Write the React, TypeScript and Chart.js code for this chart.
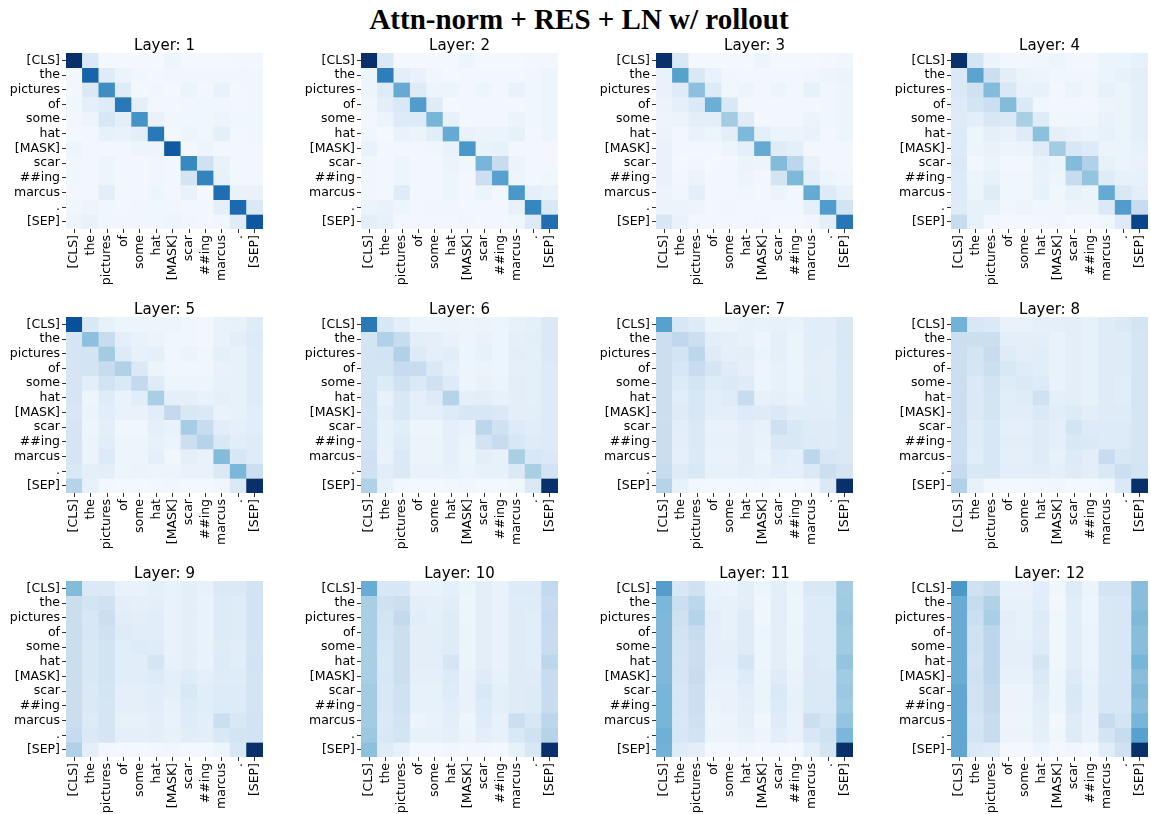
import React, { useEffect, useRef } from "react";
import { Chart, registerables } from "chart.js";
Chart.register(...registerables);

const tokens = ["[CLS]", "the", "pictures", "of", "some", "hat", "[MASK]", "scar", "##ing", "marcus", ".", "[SEP]"];
const layerTitles = ["Layer: 1", "Layer: 2", "Layer: 3", "Layer: 4", "Layer: 5", "Layer: 6", "Layer: 7", "Layer: 8", "Layer: 9", "Layer: 10", "Layer: 11", "Layer: 12"];
const figureTitle = "Attn-norm + RES + LN w/ rollout";

// Colour intensity (0..100 on the Blues colormap) per cell: rows = query token, columns = key token
const layer1 = [
  [100, 14, 2, 2, 2, 2, 5, 2, 2, 2, 3, 3],
  [3, 80, 12, 6, 4, 3, 4, 4, 4, 4, 4, 4],
  [3, 14, 64, 12, 3, 4, 2, 6, 3, 7, 3, 4],
  [4, 9, 12, 72, 9, 3, 3, 4, 4, 4, 3, 4],
  [3, 5, 16, 10, 62, 7, 4, 4, 4, 5, 4, 4],
  [2, 3, 8, 7, 10, 72, 3, 5, 4, 9, 3, 4],
  [5, 3, 3, 3, 5, 5, 84, 3, 5, 3, 3, 3],
  [4, 3, 5, 3, 3, 4, 3, 66, 20, 7, 3, 3],
  [4, 3, 5, 3, 3, 4, 3, 18, 68, 8, 3, 3],
  [3, 3, 10, 3, 3, 5, 3, 7, 2, 76, 7, 7],
  [4, 5, 4, 3, 4, 4, 4, 3, 3, 9, 78, 14],
  [5, 7, 4, 4, 4, 4, 5, 4, 3, 4, 12, 85],
];
const layer2 = [
  [100, 14, 2, 2, 2, 2, 5, 2, 2, 2, 3, 3],
  [5, 70, 10, 7, 4, 2, 3, 3, 3, 3, 4, 5],
  [5, 12, 52, 12, 5, 5, 3, 5, 3, 7, 4, 5],
  [4, 10, 15, 58, 12, 2, 3, 3, 3, 3, 4, 5],
  [3, 6, 13, 13, 47, 8, 3, 3, 3, 6, 4, 5],
  [4, 2, 7, 6, 11, 52, 7, 6, 6, 8, 3, 5],
  [7, 3, 3, 3, 4, 7, 60, 7, 8, 3, 3, 3],
  [4, 3, 5, 3, 3, 6, 4, 47, 24, 6, 3, 3],
  [4, 3, 5, 3, 3, 5, 3, 22, 56, 5, 3, 4],
  [4, 3, 12, 3, 3, 5, 3, 6, 3, 60, 9, 7],
  [6, 7, 5, 3, 4, 4, 3, 3, 3, 8, 67, 15],
  [10, 8, 3, 3, 3, 3, 4, 3, 3, 4, 13, 76],
];
const layer3 = [
  [100, 15, 2, 2, 2, 2, 5, 2, 2, 2, 3, 4],
  [7, 56, 15, 7, 4, 3, 3, 3, 3, 4, 5, 6],
  [7, 12, 42, 13, 4, 5, 3, 5, 3, 8, 4, 5],
  [6, 9, 14, 50, 15, 3, 3, 3, 3, 3, 4, 5],
  [5, 6, 10, 10, 36, 12, 3, 3, 3, 6, 4, 5],
  [6, 3, 7, 5, 10, 45, 9, 6, 6, 7, 3, 5],
  [7, 3, 3, 3, 5, 9, 52, 12, 9, 3, 3, 3],
  [7, 2, 4, 2, 3, 6, 5, 44, 28, 7, 3, 3],
  [7, 3, 6, 3, 3, 5, 3, 18, 45, 10, 5, 4],
  [6, 4, 10, 3, 3, 4, 3, 6, 3, 52, 13, 8],
  [6, 6, 5, 3, 4, 3, 3, 3, 3, 9, 58, 19],
  [16, 7, 3, 3, 3, 3, 4, 2, 2, 4, 10, 73],
];
const layer4 = [
  [100, 17, 6, 3, 3, 4, 5, 3, 3, 6, 6, 8],
  [14, 55, 22, 10, 6, 5, 4, 4, 4, 6, 8, 10],
  [14, 20, 44, 15, 7, 8, 3, 6, 4, 8, 6, 9],
  [13, 18, 22, 44, 14, 4, 3, 3, 3, 5, 6, 9],
  [12, 10, 16, 14, 34, 12, 4, 4, 4, 7, 6, 9],
  [13, 5, 9, 7, 12, 42, 9, 7, 6, 8, 6, 9],
  [13, 5, 7, 5, 6, 12, 36, 16, 13, 6, 6, 8],
  [14, 3, 6, 3, 3, 8, 6, 44, 32, 8, 6, 7],
  [13, 5, 8, 4, 4, 7, 5, 24, 40, 12, 8, 8],
  [13, 6, 12, 4, 4, 8, 4, 8, 6, 52, 15, 10],
  [12, 8, 8, 4, 5, 4, 4, 6, 6, 14, 58, 24],
  [24, 8, 3, 2, 2, 3, 4, 2, 2, 4, 13, 92],
];
const layer5 = [
  [88, 15, 8, 5, 5, 5, 5, 4, 3, 7, 8, 12],
  [17, 42, 24, 9, 7, 6, 4, 4, 3, 7, 10, 13],
  [17, 18, 36, 13, 8, 9, 4, 6, 4, 9, 8, 12],
  [17, 18, 24, 32, 14, 6, 4, 4, 4, 7, 8, 12],
  [17, 10, 19, 14, 26, 12, 5, 5, 5, 8, 8, 12],
  [17, 5, 12, 7, 11, 34, 9, 9, 7, 9, 8, 12],
  [16, 6, 11, 7, 7, 11, 26, 15, 14, 7, 8, 11],
  [17, 5, 10, 4, 4, 9, 7, 35, 24, 11, 9, 11],
  [17, 6, 11, 5, 5, 8, 6, 22, 30, 15, 11, 12],
  [17, 6, 13, 5, 5, 9, 4, 9, 7, 44, 16, 12],
  [15, 9, 10, 5, 6, 5, 5, 7, 7, 14, 46, 22],
  [30, 8, 3, 2, 2, 3, 4, 2, 2, 4, 14, 100],
];
const layer6 = [
  [72, 16, 10, 5, 5, 6, 5, 6, 5, 8, 9, 14],
  [18, 32, 24, 10, 9, 7, 5, 7, 5, 9, 10, 14],
  [18, 19, 32, 13, 9, 11, 5, 8, 5, 10, 9, 14],
  [18, 18, 25, 24, 14, 9, 5, 6, 5, 9, 9, 13],
  [18, 13, 20, 14, 20, 13, 5, 7, 6, 10, 9, 13],
  [19, 8, 15, 9, 13, 30, 9, 10, 8, 10, 9, 13],
  [18, 10, 15, 9, 9, 13, 16, 16, 14, 10, 10, 13],
  [19, 8, 11, 5, 5, 9, 7, 28, 20, 13, 11, 13],
  [19, 8, 12, 6, 6, 9, 6, 19, 24, 16, 12, 13],
  [21, 7, 14, 6, 6, 9, 5, 10, 8, 34, 16, 14],
  [20, 11, 14, 7, 7, 8, 6, 8, 8, 14, 34, 19],
  [32, 8, 3, 2, 2, 3, 4, 2, 2, 4, 14, 100],
];
const layer7 = [
  [56, 16, 13, 6, 6, 8, 7, 8, 7, 11, 11, 15],
  [22, 27, 22, 10, 9, 8, 5, 9, 6, 11, 11, 15],
  [22, 18, 28, 12, 9, 10, 6, 9, 6, 11, 10, 15],
  [22, 16, 24, 17, 12, 9, 5, 8, 6, 10, 10, 14],
  [22, 13, 18, 12, 14, 12, 5, 8, 6, 11, 10, 14],
  [22, 11, 16, 10, 12, 24, 8, 9, 7, 11, 10, 14],
  [22, 12, 16, 10, 10, 13, 12, 14, 11, 11, 11, 14],
  [23, 10, 14, 7, 7, 10, 8, 21, 15, 12, 12, 14],
  [23, 10, 14, 8, 8, 10, 7, 15, 15, 13, 12, 14],
  [23, 9, 14, 7, 7, 10, 6, 11, 9, 28, 16, 14],
  [24, 12, 15, 8, 8, 9, 8, 10, 9, 14, 22, 17],
  [30, 8, 3, 2, 2, 3, 4, 2, 2, 4, 14, 100],
];
const layer8 = [
  [48, 16, 14, 7, 7, 9, 9, 10, 8, 12, 14, 18],
  [22, 22, 22, 10, 10, 10, 7, 10, 8, 12, 12, 17],
  [22, 18, 24, 12, 10, 11, 7, 10, 8, 12, 12, 17],
  [22, 17, 22, 15, 12, 11, 7, 10, 8, 12, 12, 17],
  [22, 14, 19, 12, 14, 13, 7, 10, 8, 12, 11, 17],
  [22, 14, 18, 11, 12, 20, 9, 10, 8, 12, 11, 17],
  [22, 14, 18, 11, 11, 14, 11, 13, 10, 12, 12, 17],
  [22, 12, 16, 9, 9, 12, 9, 18, 13, 13, 13, 17],
  [22, 12, 16, 10, 10, 12, 9, 15, 14, 13, 13, 17],
  [22, 11, 16, 9, 9, 12, 8, 13, 10, 24, 15, 17],
  [25, 15, 16, 10, 10, 11, 9, 12, 10, 15, 22, 18],
  [32, 8, 3, 2, 2, 3, 4, 2, 2, 4, 14, 100],
];
const layer9 = [
  [44, 14, 14, 7, 7, 9, 7, 10, 8, 14, 14, 19],
  [23, 18, 20, 10, 9, 10, 7, 10, 7, 13, 12, 19],
  [23, 16, 22, 11, 10, 11, 7, 10, 7, 13, 12, 19],
  [23, 16, 20, 12, 11, 11, 7, 10, 7, 13, 12, 19],
  [23, 15, 19, 11, 13, 12, 7, 10, 7, 12, 11, 18],
  [23, 15, 19, 11, 11, 17, 8, 10, 7, 13, 11, 19],
  [23, 15, 19, 11, 11, 13, 9, 12, 9, 12, 12, 18],
  [23, 14, 18, 9, 9, 11, 9, 15, 11, 13, 13, 18],
  [23, 14, 17, 9, 9, 11, 8, 13, 11, 13, 13, 18],
  [23, 13, 17, 8, 8, 10, 7, 12, 10, 22, 15, 19],
  [25, 14, 17, 9, 9, 10, 8, 11, 10, 15, 18, 19],
  [32, 9, 3, 2, 2, 3, 4, 2, 2, 5, 16, 100],
];
const layer10 = [
  [51, 16, 16, 7, 7, 9, 6, 10, 7, 13, 13, 26],
  [34, 20, 22, 10, 9, 11, 5, 10, 7, 12, 12, 24],
  [34, 18, 26, 11, 9, 12, 5, 10, 7, 12, 11, 25],
  [34, 17, 22, 10, 10, 12, 6, 10, 7, 12, 11, 24],
  [34, 16, 22, 10, 10, 12, 6, 10, 7, 12, 11, 24],
  [34, 15, 22, 10, 10, 17, 6, 10, 7, 12, 11, 28],
  [34, 16, 22, 9, 9, 13, 7, 12, 8, 12, 12, 24],
  [36, 15, 20, 8, 8, 12, 7, 15, 9, 12, 13, 24],
  [36, 15, 20, 8, 8, 11, 7, 13, 9, 12, 13, 24],
  [36, 14, 19, 6, 7, 10, 5, 12, 8, 22, 16, 28],
  [38, 15, 18, 8, 8, 9, 6, 10, 8, 15, 20, 30],
  [42, 12, 8, 2, 2, 4, 3, 3, 2, 8, 16, 100],
];
const layer11 = [
  [57, 16, 20, 7, 6, 10, 5, 10, 6, 15, 15, 36],
  [46, 22, 28, 8, 8, 10, 4, 10, 5, 13, 13, 37],
  [45, 20, 30, 10, 8, 12, 4, 10, 5, 13, 13, 38],
  [45, 19, 24, 9, 8, 12, 5, 10, 6, 13, 13, 37],
  [45, 18, 23, 9, 9, 12, 5, 10, 6, 13, 13, 37],
  [45, 17, 23, 9, 9, 17, 5, 10, 6, 14, 13, 40],
  [45, 17, 24, 8, 8, 13, 6, 12, 7, 14, 14, 37],
  [47, 16, 22, 7, 7, 11, 6, 14, 8, 14, 14, 38],
  [47, 16, 22, 6, 7, 10, 6, 13, 8, 14, 14, 37],
  [47, 15, 21, 5, 6, 9, 4, 12, 7, 22, 17, 40],
  [49, 16, 19, 6, 6, 8, 5, 10, 7, 16, 20, 46],
  [48, 12, 10, 2, 2, 4, 3, 3, 2, 9, 18, 100],
];
const layer12 = [
  [60, 20, 24, 7, 7, 11, 4, 12, 6, 18, 18, 43],
  [51, 24, 32, 8, 8, 11, 3, 11, 5, 15, 16, 43],
  [51, 22, 34, 10, 8, 13, 4, 11, 5, 15, 16, 45],
  [51, 20, 28, 9, 8, 12, 4, 11, 6, 15, 16, 43],
  [51, 20, 28, 9, 9, 13, 4, 11, 6, 15, 16, 43],
  [51, 19, 28, 9, 9, 18, 4, 11, 6, 15, 16, 47],
  [51, 20, 28, 8, 8, 14, 5, 13, 7, 15, 16, 43],
  [53, 19, 26, 6, 6, 12, 5, 15, 8, 16, 16, 45],
  [53, 19, 26, 6, 6, 11, 5, 14, 8, 16, 16, 43],
  [53, 17, 24, 5, 5, 10, 3, 12, 7, 24, 18, 47],
  [53, 18, 24, 6, 6, 9, 4, 12, 7, 18, 24, 56],
  [53, 14, 12, 2, 2, 5, 2, 4, 2, 11, 20, 100],
];
const layers = [layer1, layer2, layer3, layer4, layer5, layer6, layer7, layer8, layer9, layer10, layer11, layer12];

const bluesStops = [
  [247, 251, 255], [222, 235, 247], [198, 219, 239], [158, 202, 225], [107, 174, 214],
  [66, 146, 198], [33, 113, 181], [8, 81, 156], [8, 48, 107],
];

function blues(v: number): string {
  const t = Math.max(0, Math.min(1, v / 100)) * 8;
  const i = Math.min(7, Math.floor(t));
  const f = t - i;
  const a = bluesStops[i];
  const b = bluesStops[i + 1];
  const c = a.map((x, k) => Math.round(x + (b[k] - x) * f));
  return `rgb(${c[0]},${c[1]},${c[2]})`;
}

const TICK_FONT = { family: "'DejaVu Sans', sans-serif", size: 12.5 };
const Y_AXIS_W = 62;
const X_AXIS_H = 56;
const TITLE_H = 18;
const CANVAS_W = 261;
const CANVAS_H = 250;

function Panel({ matrix, title, left, top }: { matrix: number[][]; title: string; left: number; top: number }) {
  const ref = useRef<HTMLCanvasElement>(null);
  useEffect(() => {
    const grid = {
      display: true,
      drawOnChartArea: false,
      drawTicks: true,
      tickLength: 4,
      tickColor: "#333",
      tickWidth: 1,
      offset: false,
    };
    const chart = new Chart(ref.current as HTMLCanvasElement, {
      type: "bar",
      data: {
        labels: tokens,
        datasets: matrix.map((row, i) => ({
          data: tokens.map(() => [i - 0.5, i + 0.5]),
          backgroundColor: row.map(blues),
          borderWidth: 0,
          barPercentage: 1,
          categoryPercentage: 1,
          grouped: false,
        })),
      } as any,
      options: {
        responsive: false,
        animation: false,
        layout: { padding: { left: 0, right: 2, top: 0, bottom: 0 } },
        plugins: {
          legend: { display: false },
          tooltip: { enabled: false },
          title: {
            display: true,
            text: title,
            fullSize: false,
            color: "#000",
            font: { family: "'DejaVu Sans', sans-serif", size: 15, weight: "normal" },
            padding: { top: 2, bottom: -2 },
          },
        },
        scales: {
          x: {
            type: "category",
            offset: true,
            border: { display: false },
            grid,
            ticks: {
              autoSkip: false,
              minRotation: 90,
              maxRotation: 90,
              padding: 2,
              color: "#000",
              font: TICK_FONT,
            },
            afterFit: (s: any) => {
              s.height = X_AXIS_H;
              s.paddingLeft = 0;
              s.paddingRight = 0;
            },
          },
          y: {
            type: "linear",
            min: -0.5,
            max: 11.5,
            reverse: true,
            border: { display: false },
            grid,
            ticks: {
              autoSkip: false,
              padding: 2,
              color: "#000",
              font: TICK_FONT,
              callback: (v: any) => tokens[Math.round(Number(v))] ?? "",
            },
            afterBuildTicks: (s: any) => {
              s.ticks = tokens.map((_, i) => ({ value: i }));
            },
            afterFit: (s: any) => {
              s.width = Y_AXIS_W;
              s.paddingTop = 0;
              s.paddingBottom = 0;
            },
          },
        },
      } as any,
    });
    return () => chart.destroy();
  }, [matrix, title]);
  return (
    <canvas
      ref={ref}
      width={CANVAS_W}
      height={CANVAS_H}
      style={{ position: "absolute", left, top, width: CANVAS_W, height: CANVAS_H }}
    />
  );
}

export default function App() {
  return (
    <div
      style={{
        position: "absolute",
        left: 0,
        top: 0,
        width: 1151,
        height: 814,
        overflow: "hidden",
        background: "#fff",
      }}
    >
      <div
        style={{
          position: "absolute",
          left: 579,
          top: 3,
          transform: "translateX(-50%)",
          whiteSpace: "nowrap",
          fontFamily: "'Liberation Serif', 'Times New Roman', serif",
          fontWeight: "bold",
          fontSize: 29,
          lineHeight: "32px",
          color: "#000",
        }}
      >
        {figureTitle}
      </div>
      {layers.map((m, k) => {
        const c = k % 4;
        const r = Math.floor(k / 4);
        return (
          <Panel
            key={k}
            matrix={m}
            title={layerTitles[k]}
            left={66 + 295 * c - Y_AXIS_W}
            top={53 + 264 * r - TITLE_H}
          />
        );
      })}
    </div>
  );
}
